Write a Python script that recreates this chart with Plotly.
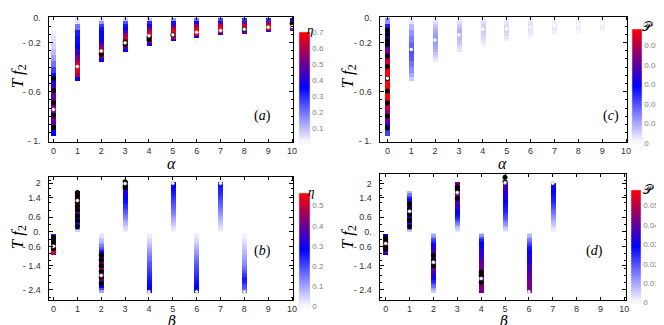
import plotly.graph_objects as go

# ---------------- data ----------------
# Panel (a)/(c): columns alpha = 0..10, strips in Tf2 (segment boundaries)
A_ALPHA = list(range(11))
A_TF2 = [
    [0, -0.05, -0.1, -0.15, -0.2, -0.25, -0.3, -0.35, -0.4, -0.45, -0.5, -0.55, -0.6, -0.65, -0.7, -0.75, -0.8, -0.85, -0.9, -0.955],
    [0, -0.05, -0.1, -0.15, -0.2, -0.25, -0.3, -0.35, -0.4, -0.45, -0.48, -0.51],
    [0, -0.025, -0.05, -0.075, -0.1, -0.125, -0.15, -0.175, -0.2, -0.225, -0.25, -0.275, -0.3, -0.325, -0.354],
    [0, -0.025, -0.05, -0.075, -0.1, -0.125, -0.15, -0.175, -0.2, -0.225, -0.25, -0.274],
    [0, -0.025, -0.05, -0.075, -0.1, -0.125, -0.15, -0.175, -0.2, -0.224],
    [0, -0.025, -0.05, -0.075, -0.1, -0.125, -0.15, -0.175, -0.19],
    [0, -0.025, -0.05, -0.075, -0.1, -0.125, -0.15, -0.165],
    [0, -0.025, -0.05, -0.075, -0.1, -0.125, -0.142],
    [0, -0.025, -0.05, -0.075, -0.1, -0.129],
    [0, -0.025, -0.05, -0.075, -0.1, -0.116],
    [0, -0.025, -0.05, -0.075, -0.103],
]
A_ETA = [
    [0.01, 0.02, 0.03, 0.05, 0.07, 0.1, 0.14, 0.2, 0.27, 0.34, 0.41, 0.46, 0.49, 0.5, 0.51, 0.51, 0.5, 0.46, 0.36],
    [0.05, 0.2, 0.32, 0.34, 0.36, 0.42, 0.52, 0.62, 0.66, 0.58, 0.38],
    [0.05, 0.15, 0.28, 0.33, 0.35, 0.36, 0.37, 0.4, 0.47, 0.56, 0.64, 0.67, 0.55, 0.38],
    [0.08, 0.25, 0.33, 0.36, 0.45, 0.55, 0.63, 0.67, 0.62, 0.5, 0.36],
    [0.1, 0.3, 0.38, 0.5, 0.62, 0.67, 0.68, 0.58, 0.38],
    [0.15, 0.33, 0.45, 0.6, 0.68, 0.68, 0.6, 0.38],
    [0.2, 0.38, 0.55, 0.66, 0.69, 0.64, 0.4],
    [0.25, 0.45, 0.62, 0.68, 0.66, 0.42],
    [0.28, 0.5, 0.65, 0.69, 0.5],
    [0.3, 0.55, 0.67, 0.69, 0.45],
    [0.35, 0.6, 0.7, 0.5],
]
C_P = [
    [0.012, 0.026, 0.031, 0.034, 0.038, 0.044, 0.05, 0.055, 0.057, 0.058, 0.058, 0.058, 0.058, 0.056, 0.052, 0.046, 0.04, 0.034, 0.022],
    [0.003, 0.008, 0.012, 0.015, 0.018, 0.02, 0.019, 0.016, 0.013, 0.01, 0.006],
    [0.002, 0.004, 0.006, 0.008, 0.01, 0.011, 0.012, 0.012, 0.011, 0.01, 0.009, 0.007, 0.005, 0.003],
    [0.002, 0.004, 0.006, 0.008, 0.009, 0.009, 0.008, 0.007, 0.006, 0.004, 0.003],
    [0.002, 0.004, 0.005, 0.006, 0.006, 0.005, 0.004, 0.003, 0.002],
    [0.002, 0.003, 0.004, 0.005, 0.005, 0.004, 0.003, 0.002],
    [0.002, 0.003, 0.004, 0.004, 0.003, 0.002, 0.001],
    [0.001, 0.002, 0.003, 0.003, 0.002, 0.001],
    [0.001, 0.002, 0.002, 0.002, 0.001],
    [0.001, 0.0015, 0.002, 0.0015, 0.001],
    [0.0005, 0.001, 0.001, 0.0005],
]
A_BLACK_X = [0, 0, 0, 0, 0, 2, 3, 3, 4, 4, 5, 8, 10]
A_BLACK_Y = [-0.49, -0.59, -0.69, -0.79, -0.89, -0.296, -0.195, -0.216, -0.156, -0.177, -0.137, -0.092, -0.045]
A_WHITE_X = [0, 1, 2, 3, 4, 5, 6, 7, 8, 9, 10]
A_WHITE_Y = [-0.744, -0.396, -0.27, -0.203, -0.145, -0.137, -0.116, -0.103, -0.092, -0.077, -0.071]
C_BLACK_X = [0, 0, 0, 0, 0, 0, 0, 0, 0, 0, 0]
C_BLACK_Y = [-0.098, -0.137, -0.185, -0.216, -0.309, -0.396, -0.493, -0.594, -0.691, -0.797, -0.894]
C_WHITE_X = [0, 1, 2, 3, 4, 5, 6, 7, 8, 9]
C_WHITE_Y = [-0.49, -0.256, -0.18, -0.137, -0.092, -0.09, -0.075, -0.065, -0.055, -0.045]

# Panel (b)/(d): columns beta
NEG_GRID = [-0.05, -0.1, -0.2, -0.3, -0.4, -0.5, -0.6, -0.7, -0.8, -0.9, -1.0, -1.1, -1.2, -1.3,
            -1.4, -1.5, -1.6, -1.7, -1.8, -1.9, -2.0, -2.1, -2.2, -2.3, -2.4, -2.5]
POS_GRID = [2.03, 2.0, 1.9, 1.8, 1.7, 1.6, 1.5, 1.4, 1.3, 1.2, 1.1, 1.0, 0.9, 0.8, 0.7, 0.6,
            0.5, 0.4, 0.3, 0.2, 0.1, 0.0]
B0_GRID = [-0.12, -0.2, -0.3, -0.4, -0.5, -0.6, -0.7, -0.8, -0.9, -0.97]
B1_GRID = [1.69, 1.6, 1.5, 1.4, 1.3, 1.2, 1.1, 1.0, 0.9, 0.8, 0.7, 0.6, 0.5, 0.4, 0.3, 0.2, 0.1, 0.0]
B3_GRID = [2.1, 2.0, 1.9, 1.8, 1.7, 1.6, 1.5, 1.4, 1.3, 1.2, 1.1, 1.0, 0.9, 0.8, 0.7, 0.6,
           0.5, 0.4, 0.3, 0.2, 0.1, 0.0]
B7_GRID = [2.0, 1.9, 1.8, 1.7, 1.6, 1.5, 1.4, 1.3, 1.2, 1.1, 1.0, 0.9, 0.8, 0.7, 0.6,
           0.5, 0.4, 0.3, 0.2, 0.1, 0.0]

B_BETA = [0, 1, 2, 3, 4, 5, 6, 7, 8]
B_TF2 = [B0_GRID, B1_GRID, NEG_GRID, B3_GRID, NEG_GRID, POS_GRID, NEG_GRID, POS_GRID, NEG_GRID]
B_ETA = [
    [0.25, 0.3, 0.38, 0.42, 0.45, 0.5, 0.54, 0.55, 0.45],
    [0.42, 0.45, 0.47, 0.48, 0.48, 0.47, 0.46, 0.44, 0.4, 0.36, 0.34, 0.32, 0.3, 0.26, 0.2, 0.12, 0.05],
    [0.02, 0.03, 0.05, 0.07, 0.1, 0.14, 0.18, 0.23, 0.28, 0.33, 0.38, 0.41, 0.43, 0.45, 0.46, 0.46, 0.46, 0.45, 0.44, 0.42, 0.38, 0.33, 0.28, 0.2, 0.1],
    [0.42, 0.38, 0.34, 0.32, 0.31, 0.3, 0.29, 0.28, 0.27, 0.25, 0.23, 0.21, 0.19, 0.17, 0.15, 0.13, 0.1, 0.08, 0.06, 0.04, 0.02],
    [0.01, 0.02, 0.03, 0.045, 0.06, 0.075, 0.09, 0.105, 0.12, 0.135, 0.15, 0.16, 0.175, 0.19, 0.2, 0.21, 0.22, 0.235, 0.245, 0.255, 0.265, 0.275, 0.285, 0.29, 0.3],
    [0.3, 0.29, 0.28, 0.27, 0.26, 0.25, 0.235, 0.22, 0.21, 0.195, 0.18, 0.165, 0.15, 0.135, 0.12, 0.1, 0.085, 0.07, 0.05, 0.03, 0.015],
    [0.01, 0.02, 0.03, 0.04, 0.055, 0.07, 0.085, 0.1, 0.115, 0.13, 0.145, 0.16, 0.17, 0.185, 0.195, 0.205, 0.215, 0.23, 0.24, 0.25, 0.26, 0.27, 0.28, 0.285, 0.29],
    [0.28, 0.27, 0.26, 0.25, 0.24, 0.23, 0.22, 0.205, 0.19, 0.18, 0.165, 0.15, 0.135, 0.12, 0.105, 0.09, 0.075, 0.06, 0.045, 0.03, 0.015],
    [0.01, 0.015, 0.02, 0.03, 0.04, 0.05, 0.06, 0.07, 0.08, 0.09, 0.1, 0.11, 0.12, 0.13, 0.15, 0.17, 0.19, 0.22, 0.24, 0.26, 0.25, 0.22, 0.2, 0.18, 0.15],
]
B_BLACK_X = [0, 0, 0, 0, 1, 1, 1, 1, 1, 1, 1, 1, 1, 2, 2, 2, 2, 2, 2, 3, 3, 3]
B_BLACK_Y = [-0.22, -0.33, -0.45, -0.7, 1.62, 1.49, 1.36, 1.22, 1.05, 0.91, 0.66, 0.46, 0.21,
             -0.97, -1.17, -1.4, -1.64, -1.87, -2.13, 2.07, 1.89, 1.82]
B_WHITE_X = [0, 1, 2, 3, 4, 5, 6, 7, 8]
B_WHITE_Y = [-0.6, 1.29, -1.8, 1.99, -2.47, 2.0, -2.47, 2.0, -2.47]

D_BETA = [0, 1, 2, 3, 4, 5, 6, 7]
D_TF2 = [B0_GRID, B1_GRID, NEG_GRID, POS_GRID, NEG_GRID, POS_GRID, NEG_GRID, B7_GRID]
D_P = [
    [0.03, 0.042, 0.052, 0.057, 0.058, 0.057, 0.052, 0.042, 0.03],
    [0.008, 0.015, 0.022, 0.028, 0.032, 0.035, 0.037, 0.038, 0.038, 0.037, 0.035, 0.032, 0.03, 0.027, 0.022, 0.015, 0.006],
    [0.005, 0.01, 0.016, 0.022, 0.027, 0.03, 0.033, 0.035, 0.037, 0.039, 0.041, 0.042, 0.042, 0.042, 0.041, 0.04, 0.037, 0.034, 0.031, 0.028, 0.025, 0.021, 0.016, 0.011, 0.006],
    [0.042, 0.043, 0.044, 0.044, 0.043, 0.042, 0.041, 0.04, 0.039, 0.037, 0.035, 0.033, 0.031, 0.029, 0.027, 0.024, 0.02, 0.015, 0.01, 0.006, 0.003],
    [0.005, 0.012, 0.02, 0.026, 0.029, 0.031, 0.032, 0.033, 0.034, 0.035, 0.036, 0.037, 0.039, 0.04, 0.041, 0.042, 0.042, 0.043, 0.043, 0.044, 0.044, 0.044, 0.044, 0.043, 0.042],
    [0.04, 0.038, 0.036, 0.034, 0.033, 0.032, 0.031, 0.03, 0.029, 0.028, 0.027, 0.026, 0.025, 0.023, 0.021, 0.019, 0.016, 0.013, 0.01, 0.006, 0.003],
    [0.004, 0.008, 0.012, 0.016, 0.02, 0.023, 0.026, 0.028, 0.03, 0.031, 0.032, 0.033, 0.034, 0.035, 0.036, 0.037, 0.038, 0.039, 0.04, 0.041, 0.042, 0.042, 0.043, 0.043, 0.043],
    [0.032, 0.031, 0.03, 0.029, 0.028, 0.027, 0.026, 0.025, 0.023, 0.021, 0.019, 0.017, 0.015, 0.013, 0.011, 0.009, 0.007, 0.005, 0.003, 0.002],
]
D_BLACK_X = [0, 0, 0, 0, 0, 1, 1, 1, 1, 1, 2, 2, 2, 3, 3, 3, 4, 4, 4, 5, 5]
D_BLACK_Y = [-0.23, -0.32, -0.43, -0.63, -0.72, 1.15, 0.95, 0.71, 0.48, 0.21, -0.97, -1.17, -1.4,
             1.85, 1.76, 1.38, -1.66, -1.8, -2.09, 2.25, 2.07]
D_WHITE_X = [0, 1, 2, 3, 4, 5, 6, 7]
D_WHITE_Y = [-0.48, 0.85, -1.26, 1.62, -1.93, 2.03, -2.47, 2.0]

X_TICKS = list(range(11))
A_YTICKS = [0, -0.2, -0.6, -1.0]
A_YTEXT = ["0.", "- 0.2", "- 0.6", "- 1."]
B_YTICKS = [2, 1.4, 0.6, 0, -0.6, -1.4, -2.4]
B_YTEXT = ["2", "1.4", "0.6", "0.", "- 0.6", "- 1.4", "- 2.4"]
ETA_A_TICKS = [0.1, 0.2, 0.3, 0.4, 0.5, 0.6, 0.7]
ETA_B_TICKS = [0, 0.1, 0.2, 0.3, 0.4, 0.5]
P_TICKS = [0, 0.01, 0.02, 0.03, 0.04, 0.05]

# ---------------- figure ----------------
W, H = 664, 325
CS = [[0, "#ffffff"], [0.5, "#0000ff"], [1, "#ff0000"]]


def px_x(p):
    return p / W


def px_y(p):
    return 1 - p / H


def segments(xs, grids, vals):
    X, B, L, C = [], [], [], []
    for x, g, v in zip(xs, grids, vals):
        for i in range(len(v)):
            X.append(x)
            B.append(g[i])
            L.append(g[i + 1] - g[i])
            C.append(v[i])
    return X, B, L, C


def cbar(x, ytop, ybot, thick, ticks, texts):
    # colorbar geometry in pixels (nudged for plotly's internal offsets)
    return dict(x=px_x(x - 6), xanchor="left", y=px_y(ybot + 1), yanchor="bottom",
                len=(ybot - ytop) + 9, lenmode="pixels", thickness=thick, thicknessmode="pixels",
                xpad=0, ypad=0, outlinewidth=0.5, outlinecolor="#dddddd",
                tickvals=ticks, ticktext=texts, ticks="", ticklen=0,
                ticklabelposition="outside", ticklabeloverflow="allow",
                tickfont=dict(size=8, color="#808080", family="Liberation Sans"))


fig = go.Figure()

panels = [
    ("x", "y", A_ALPHA, A_TF2, A_ETA, 0.01, 0.7,
     cbar(299, 31, 133, 11, ETA_A_TICKS, [str(t) for t in ETA_A_TICKS]),
     A_BLACK_X, A_BLACK_Y, A_WHITE_X, A_WHITE_Y, "#888888"),
    ("x2", "y2", B_BETA, B_TF2, B_ETA, 0.0, 0.565,
     cbar(299, 196, 301, 11, ETA_B_TICKS, ["0", "0.1", "0.2", "0.3", "0.4", "0.5"]),
     B_BLACK_X, B_BLACK_Y, B_WHITE_X, B_WHITE_Y, "#888888"),
    ("x3", "y3", A_ALPHA, A_TF2, C_P, 0.0, 0.0585,
     cbar(634, 28, 133, 10, P_TICKS, ["0", "0.01", "0.02", "0.03", "0.04", "0.05"]),
     C_BLACK_X, C_BLACK_Y, C_WHITE_X, C_WHITE_Y, "rgba(0,0,0,0)"),
    ("x4", "y4", D_BETA, D_TF2, D_P, 0.0, 0.058,
     cbar(633, 193, 297, 10, P_TICKS, ["0", "0.01", "0.02", "0.03", "0.04", "0.05"]),
     D_BLACK_X, D_BLACK_Y, D_WHITE_X, D_WHITE_Y, "#888888"),
]

for xa, ya, xs, grids, vals, cmin, cmax, cb, bx, by, wx, wy, wl in panels:
    X, B, L, C = segments(xs, grids, vals)
    fig.add_trace(go.Bar(x=X, y=L, base=B, width=0.21, xaxis=xa, yaxis=ya, showlegend=False,
                         hoverinfo="skip",
                         marker=dict(color=C, colorscale=CS, cmin=cmin, cmax=cmax,
                                     line=dict(width=0), colorbar=cb)))
    fig.add_trace(go.Scatter(x=bx, y=by, mode="markers", xaxis=xa, yaxis=ya, showlegend=False,
                             hoverinfo="skip", marker=dict(color="black", size=5)))
    fig.add_trace(go.Scatter(x=wx, y=wy, mode="markers", xaxis=xa, yaxis=ya, showlegend=False,
                             hoverinfo="skip",
                             marker=dict(color="white", size=3.5, line=dict(color=wl, width=0.5))))

tickfont = dict(size=9, color="#333333", family="Liberation Sans")


def xaxis(x0, x1, rng, anchor):
    return dict(domain=[px_x(x0), px_x(x1)], range=rng, anchor=anchor,
                showline=True, linecolor="black", linewidth=1.2, mirror="allticks",
                ticks="inside", ticklen=3, tickcolor="black", tickwidth=1,
                tickvals=X_TICKS, ticktext=[str(t) for t in X_TICKS],
                showgrid=False, zeroline=False, tickfont=tickfont, ticklabelstandoff=0)


def yaxis(y0, y1, rng, anchor, tv, tt, mdt):
    return dict(domain=[px_y(y1), px_y(y0)], range=rng, anchor=anchor,
                showline=True, linecolor="black", linewidth=1.2, mirror="allticks",
                ticks="inside", ticklen=4, tickcolor="black", tickwidth=1,
                tickvals=tv, ticktext=tt, showgrid=False, zeroline=False,
                tickfont=tickfont, ticklabelstandoff=5,
                minor=dict(ticks="inside", ticklen=2, tickcolor="black", tickmode="linear",
                           tick0=0, dtick=mdt, showgrid=False))


fig.update_layout(
    width=W, height=H, margin=dict(l=0, r=0, t=0, b=0),
    paper_bgcolor="white", plot_bgcolor="white", barmode="overlay", bargap=0,
    xaxis=xaxis(41, 287, [-0.2, 10.05], "y"),
    yaxis=yaxis(5, 133, [-1.006, 0.008], "x", A_YTICKS, A_YTEXT, 1 / 15),
    xaxis2=xaxis(41, 287, [-0.2, 10.05], "y2"),
    yaxis2=yaxis(169, 295, [-2.802, 2.268], "x2", B_YTICKS, B_YTEXT, 0.3),
    xaxis3=xaxis(374, 623, [-0.32, 10.05], "y3"),
    yaxis3=yaxis(5, 133, [-1.006, 0.008], "x3", A_YTICKS, A_YTEXT, 1 / 15),
    xaxis4=xaxis(374, 622, [-0.25, 10.08], "y4"),
    yaxis4=yaxis(166, 295, [-2.802, 2.39], "x4", B_YTICKS, B_YTEXT, 0.3),
)

serif = "Liberation Serif"


def ann(x, y, text, size, angle=0, color="black", family=serif, yanchor="middle"):
    fig.add_annotation(x=px_x(x), y=px_y(y), xref="paper", yref="paper", text=text,
                       showarrow=False, textangle=angle, xanchor="center", yanchor=yanchor,
                       font=dict(family=family, size=size, color=color), borderpad=0)


TF2 = "<i>T f</i><sub>2</sub>"
ann(11, 66, TF2, 17, -90)
ann(343, 66, TF2, 17, -90)
ann(11, 231, TF2, 17, -90)
ann(343, 231, TF2, 17, -90)
ann(164, 155, "<i>α</i>", 16)
ann(497, 155, "<i>α</i>", 16)
ann(164, 307.5, "<i>β</i>", 14, yanchor="top", family="DejaVu Serif")
ann(499, 307.5, "<i>β</i>", 14, yanchor="top", family="DejaVu Serif")
ann(256, 107, "(<i>a</i>)", 14)
ann(607, 107, "(<i>c</i>)", 14)
ann(256, 245, "(<i>b</i>)", 14)
ann(590, 245, "(<i>d</i>)", 14)
ann(304, 18, "<i>η</i>", 13)
ann(643, 15, "𝒫", 13, family="DejaVu Serif")
ann(305, 184, "<i>η</i>", 13)
ann(644, 182, "𝒫", 13, family="DejaVu Serif")

fig.write_html("out.html")
